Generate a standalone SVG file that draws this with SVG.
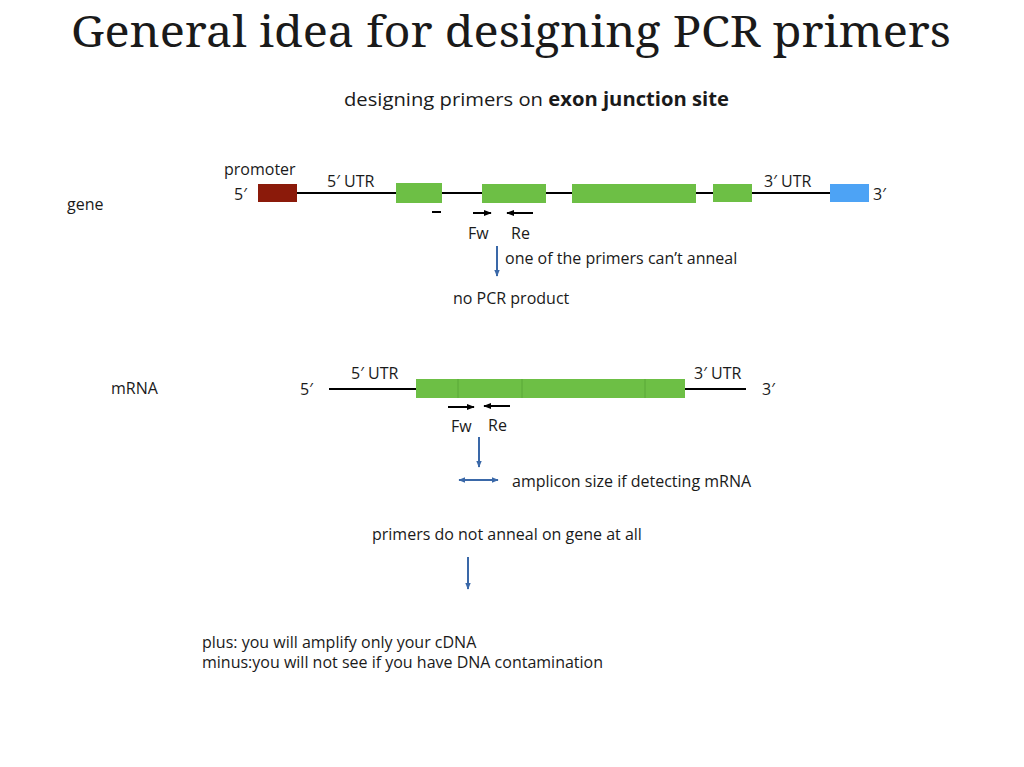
<svg xmlns="http://www.w3.org/2000/svg" width="1024" height="767" viewBox="0 0 1024 767">
<defs>
<style>
.t{font-family:"Open Sans","Liberation Sans",sans-serif;font-size:16px;fill:#1a1a1a}
.title{font-family:"Noto Serif","DejaVu Serif","Liberation Serif",serif;font-size:44px;fill:#1a1a1a}
.dna{stroke:#000;stroke-width:2;fill:none}
.exon{fill:#6dbf45}
.pr{stroke:#000;stroke-width:2;fill:none}
.flow{stroke:#3a68a8;stroke-width:2;fill:none}
</style>
<marker id="ah" viewBox="0 0 10 10" refX="9" refY="5" markerWidth="4" markerHeight="4" orient="auto-start-reverse"><path d="M0,1 L10,5 L0,9 z" fill="#000"/></marker>
<marker id="bh" viewBox="0 0 10 10" refX="9" refY="5" markerWidth="3.5" markerHeight="3.5" orient="auto-start-reverse"><path d="M0,1 L10,5 L0,9 z" fill="#3a68a8"/></marker>
</defs>
<rect width="1024" height="767" fill="#fff"/>
<text class="title" x="511" y="47" text-anchor="middle" textLength="880" lengthAdjust="spacingAndGlyphs">General idea for designing PCR primers</text>
<text class="t" x="344" y="106" style="font-size:19px" textLength="385" lengthAdjust="spacingAndGlyphs">designing primers on <tspan font-weight="bold">exon junction site</tspan></text>

<g id="gene">
<text class="t" x="67" y="210">gene</text>
<text class="t" x="224" y="175">promoter</text>
<text class="t" x="234" y="200">5′</text>
<text class="t" x="327" y="187">5′ UTR</text>
<text class="t" x="764" y="187">3′ UTR</text>
<text class="t" x="873" y="200">3′</text>
<line class="dna" x1="297" y1="193" x2="830" y2="193"/>
<rect x="258" y="184" width="39" height="18" fill="#8b1a0a"/>
<rect class="exon" x="396" y="183" width="46" height="20"/>
<rect class="exon" x="482" y="184" width="64" height="19"/>
<rect class="exon" x="572" y="184" width="124" height="19"/>
<rect class="exon" x="713" y="184" width="39" height="18"/>
<rect x="830" y="184" width="39" height="18" fill="#4da3f5"/>
</g>

<g id="mrna">
<text class="t" x="111" y="394">mRNA</text>
<text class="t" x="300" y="395">5′</text>
<text class="t" x="762" y="395">3′</text>
<text class="t" x="351" y="379">5′ UTR</text>
<text class="t" x="694" y="379">3′ UTR</text>
<line class="dna" x1="329" y1="389" x2="746" y2="389"/>
<rect class="exon" x="416" y="379" width="269" height="19"/>
<line x1="458" y1="379" x2="458" y2="398" stroke="#5aa838" stroke-width="1"/>
<line x1="522" y1="379" x2="522" y2="398" stroke="#5aa838" stroke-width="1"/>
<line x1="645" y1="379" x2="645" y2="398" stroke="#5aa838" stroke-width="1"/>
</g>

<g id="labels">
<text class="t" x="468" y="239">Fw</text>
<text class="t" x="511" y="239">Re</text>
<text class="t" x="505" y="264">one of the primers can’t anneal</text>
<text class="t" x="453" y="304">no PCR product</text>
<text class="t" x="451" y="432">Fw</text>
<text class="t" x="488" y="431">Re</text>
<text class="t" x="512" y="487">amplicon size if detecting mRNA</text>
<text class="t" x="372" y="540">primers do not anneal on gene at all</text>
<text class="t" x="202" y="648">plus: you will amplify only your cDNA</text>
<text class="t" x="202" y="668">minus:you will not see if you have DNA contamination</text>
</g>

<g id="connectors">
<line class="pr" x1="432" y1="212" x2="441" y2="212"/>
<line class="pr" x1="473" y1="213" x2="491" y2="213" marker-end="url(#ah)"/>
<line class="pr" x1="533" y1="213" x2="507" y2="213" marker-end="url(#ah)"/>
<line class="pr" x1="448" y1="407" x2="474" y2="407" marker-end="url(#ah)"/>
<line class="pr" x1="510" y1="406" x2="484" y2="406" marker-end="url(#ah)"/>
<line class="flow" x1="497" y1="246" x2="497" y2="276" marker-end="url(#bh)"/>
<line class="flow" x1="479" y1="437" x2="479" y2="467" marker-end="url(#bh)"/>
<line class="flow" x1="459" y1="480" x2="498" y2="480" marker-start="url(#bh)" marker-end="url(#bh)"/>
<line class="flow" x1="468" y1="557" x2="468" y2="589" marker-end="url(#bh)"/>
</g>
</svg>
